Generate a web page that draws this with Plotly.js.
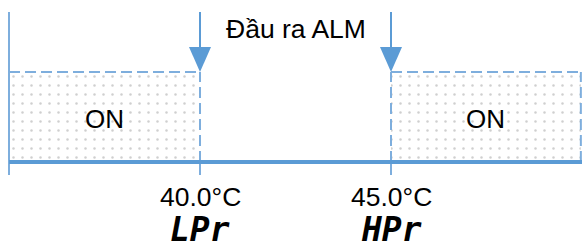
<!DOCTYPE html>
<html><head><meta charset="utf-8">
<script src="https://cdn.plot.ly/plotly-3.0.1.min.js"></script>
<style>html,body{margin:0;padding:0;background:#fff}</style>
</head><body>
<div id="chart" style="width:582px;height:248px"></div>
<script>
// Data
const thresholds = [40, 45];
const thresholdLabels = ['40.0°C', '45.0°C'];
const thresholdCodes = ['LPr', 'HPr'];
const onStart = [35, 45];
const onEnd = [40, 49.97];
const onLevel = 1;
const offLevel = 0;
const stateLabel = 'ON';
const titleText = 'Đầu ra ALM';
const axisStart = 35, axisEnd = 50;

const blue = '#5B9BD5';
const lightBlue = '#7EAEDD';
const textFont = 'Liberation Sans, Arial, sans-serif';
const traces = [];
const shapes = [];
const annotations = [];

for (let i = 0; i < onStart.length; i++) {
  traces.push({
    type: 'scatter', mode: 'lines',
    x: [onStart[i], onEnd[i], onEnd[i], onStart[i], onStart[i]],
    y: [offLevel, offLevel, onLevel, onLevel, offLevel],
    fill: 'toself', fillcolor: 'rgba(255,255,255,0)',
    fillpattern: {shape: '.', fgcolor: '#cfcfcf', bgcolor: '#ffffff', size: 9, solidity: 0.06},
    line: {width: 0}, hoverinfo: 'skip', showlegend: false
  });
  shapes.push({type: 'line', xref: 'x', yref: 'y', x0: onStart[i], x1: onEnd[i], y0: onLevel, y1: onLevel,
    line: {color: lightBlue, width: 2, dash: '11px,5px'}});
  [onStart[i], onEnd[i]].forEach(xv => {
    if (xv === axisStart) return;
    shapes.push({type: 'line', xref: 'x', yref: 'y', x0: xv, x1: xv, y0: offLevel, y1: onLevel,
      line: {color: lightBlue, width: 2, dash: '11px,5px'}});
  });
  annotations.push({x: (onStart[i] + onEnd[i]) / 2, y: (onLevel + offLevel) / 2, xref: 'x', yref: 'y',
    text: stateLabel, showarrow: false, yshift: -2,
    font: {family: textFont, size: 26, color: '#000'}});
}

// axis start vertical line
shapes.push({type: 'line', xref: 'x', yref: 'y', x0: axisStart, x1: axisStart,
  ysizemode: 'pixel', yanchor: offLevel, y0: -13, y1: 150, line: {color: lightBlue, width: 2}});

thresholds.forEach((t, i) => {
  shapes.push({type: 'line', xref: 'x', yref: 'y', x0: t, x1: t, ysizemode: 'pixel', yanchor: offLevel,
    y0: -13, y1: 0, line: {color: lightBlue, width: 2}});
  shapes.push({type: 'line', xref: 'x', yref: 'y', x0: t, x1: t, ysizemode: 'pixel', yanchor: onLevel,
    y0: 22, y1: 60, line: {color: blue, width: 2}});
  shapes.push({type: 'path', xref: 'x', yref: 'y', xsizemode: 'pixel', xanchor: t, ysizemode: 'pixel', yanchor: onLevel,
    path: 'M-11,25 L11,25 L0,0 Z', fillcolor: blue, line: {width: 0}});
  annotations.push({x: t, y: offLevel, xref: 'x', yref: 'y', text: thresholdLabels[i], showarrow: false,
    yanchor: 'top', yshift: -18,
    font: {family: textFont, size: 26.5, color: '#000'}});
  annotations.push({x: t, y: offLevel, xref: 'x', yref: 'y', text: '<b><i>' + thresholdCodes[i] + '</i></b>', showarrow: false,
    yanchor: 'top', yshift: -46,
    font: {family: 'DejaVu Sans Mono, monospace', size: 33, color: '#000'}});
});

shapes.push({type: 'line', xref: 'x', yref: 'y', x0: axisStart, x1: axisEnd, y0: offLevel, y1: offLevel,
  line: {color: blue, width: 4}});

annotations.push({x: (thresholds[0] + thresholds[1]) / 2, y: onLevel, xref: 'x', yref: 'y', text: titleText,
  showarrow: false, yanchor: 'bottom', yshift: 26,
  font: {family: textFont, size: 26.5, color: '#000'}});

const layout = {
  width: 582, height: 248,
  margin: {l: 0, r: 0, t: 0, b: 0},
  paper_bgcolor: '#fff', plot_bgcolor: '#fff',
  xaxis: {range: [34.764, 50.0], visible: false, fixedrange: true},
  yaxis: {range: [-0.9556, 1.8], visible: false, fixedrange: true},
  shapes: shapes, annotations: annotations, showlegend: false
};
Plotly.newPlot('chart', traces, layout, {staticPlot: true, displayModeBar: false});
</script>
</body></html>
